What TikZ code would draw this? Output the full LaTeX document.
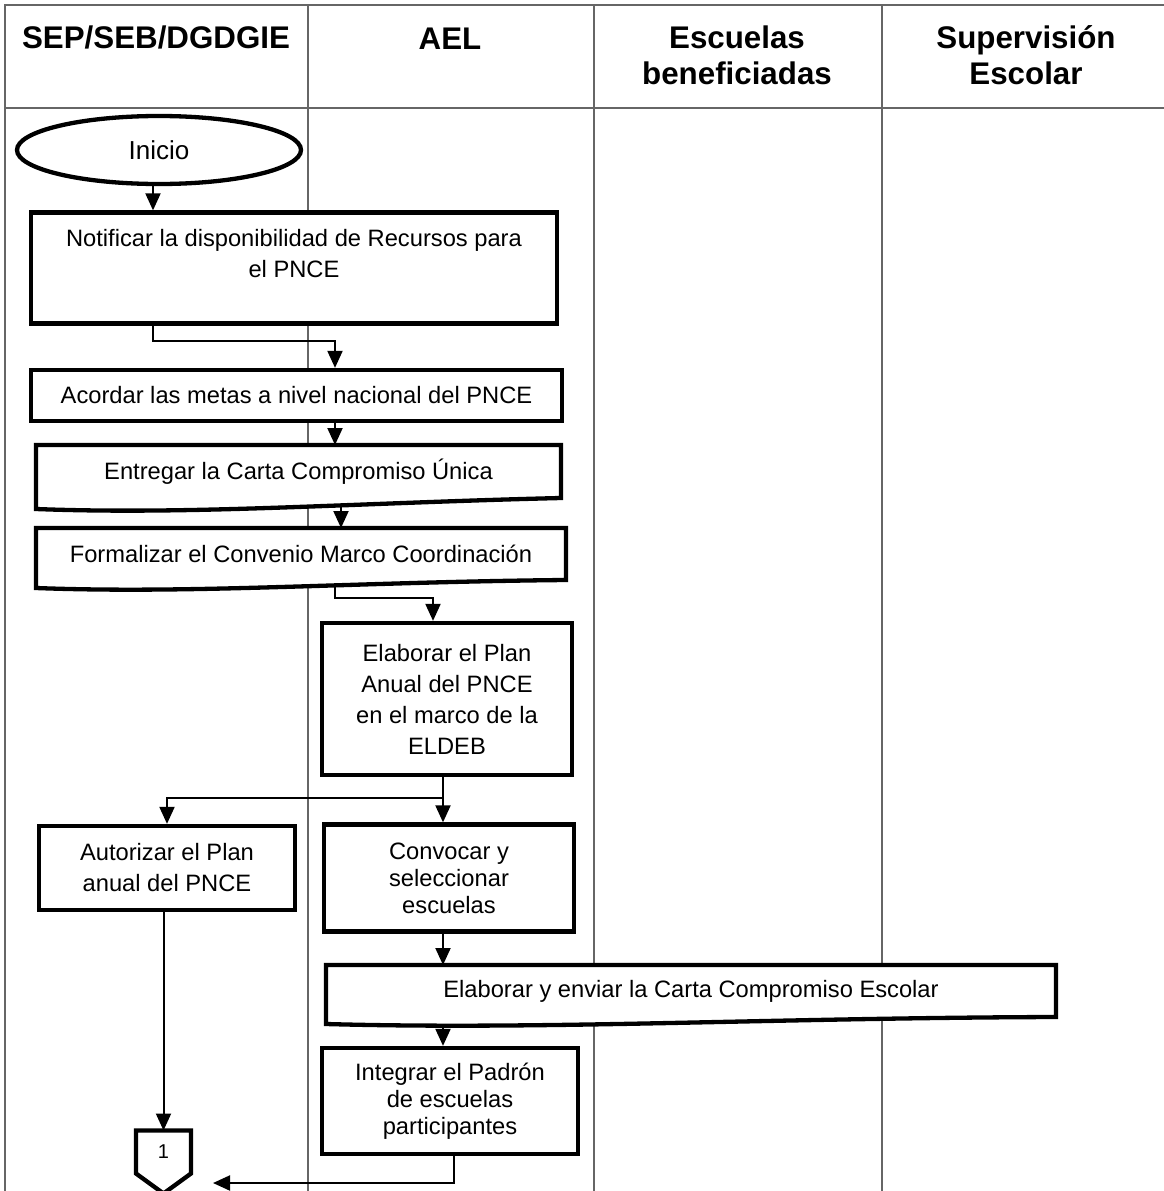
\documentclass[tikz,border=0pt]{standalone}
\usepackage{fontspec}
\setmainfont{Liberation Sans}
\usetikzlibrary{calc,arrows.meta,shapes.geometric}

\pgfdeclarelayer{lanes}
\pgfdeclarelayer{shapes}
\pgfsetlayers{lanes,shapes,main}

% the document symbol: flat top, bottom edge a wave; #2 = how far the left end drops
\newcommand{\docshape}[2]{%
  \begin{pgfonlayer}{shapes}
    \draw[boxline, fill=white] (#1.north west) -- ($(#1.south west)+(0,#2)$)
      .. controls ($(#1.south west)!0.3!(#1.south east)+(0,#2+6)$) and ($(#1.south west)!0.6!(#1.south east)+(0,#2-6)$) .. (#1.south east)
      -- (#1.north east) -- cycle;
  \end{pgfonlayer}}

\begin{document}
\begin{tikzpicture}[x=1pt, y=-1pt, >={Triangle[width=15pt,length=17pt]},
  lane/.style={draw=black!60, line width=1.2pt},
  lanehead/.style={font=\fontsize{31.3}{36}\selectfont\bfseries, align=center, anchor=north, inner sep=0pt},
  boxline/.style={line width=4.3pt},
  stepbox/.style={draw, fill=white, boxline, align=center, inner sep=0pt, font=\fontsize{23.7}{31}\selectfont},
  tightbox/.style={stepbox, font=\fontsize{23.7}{27}\selectfont},
  docbox/.style={stepbox, draw=none, fill=none, outer sep=0pt},
  flow/.style={->, line width=2pt},
]
  \useasboundingbox (0,0) rectangle (1164,1191);
  % ---------------------------------------------------------------- the lanes
  \begin{pgfonlayer}{lanes}
    \draw[lane] (1164,5) -- (5,5) -- (5,1191);
    \draw[lane] (5,108) -- (1164,108);
    \foreach \x in {308,594,882} \draw[lane] (\x,5) -- (\x,1191);
  \end{pgfonlayer}
  \node[lanehead] (hsep) at (156,26) {SEP/SEB/DGDGIE};
  \node[lanehead] (hael) at (450,28) {AEL};
  \node[lanehead] (hesc) at (737,26) {Escuelas\\beneficiadas};
  \node[lanehead] (hsup) at (1026,25) {Supervisión\\Escolar};
  % ---------------------------------------------------------------- the steps
  \node[ellipse, draw, boxline, fill=white, minimum width=284pt, minimum height=68pt, inner sep=0pt,
        font=\fontsize{26}{31}\selectfont] (inicio) at (159,150) {Inicio};
  \node[stepbox, minimum width=526pt, minimum height=111pt, text depth=29pt] (notificar) at (294,268)
    {Notificar la disponibilidad de Recursos para\\el PNCE};
  \node[stepbox, minimum width=531pt, minimum height=51pt] (acordar) at (296.5,395.5)
    {Acordar las metas a nivel nacional del PNCE};
  \node[docbox, minimum width=525pt, minimum height=53pt] (entregar) at (298.5,471.5)
    {Entregar la Carta Compromiso Única};
  \docshape{entregar}{11}
  \node[docbox, minimum width=530pt, minimum height=52pt] (formalizar) at (301,554)
    {Formalizar el Convenio Marco Coordinación};
  \docshape{formalizar}{8}
  \node[stepbox, minimum width=250pt, minimum height=152pt] (plan) at (447,699)
    {Elaborar el Plan\\Anual del PNCE\\en el marco de la\\ELDEB};
  \node[stepbox, minimum width=256pt, minimum height=84pt] (autorizar) at (167,868)
    {Autorizar el Plan\\anual del PNCE};
  \node[tightbox, minimum width=250pt, minimum height=107pt] (convocar) at (449,878)
    {Convocar y\\seleccionar\\escuelas};
  \node[docbox, minimum width=730pt, minimum height=52pt] (carta) at (691,991)
    {Elaborar y enviar la Carta Compromiso Escolar};
  \docshape{carta}{7}
  \node[tightbox, minimum width=256pt, minimum height=106pt] (padron) at (450,1101)
    {Integrar el Padrón\\de escuelas\\participantes};
  % off-page connector
  \node[docbox, minimum width=55pt, minimum height=43pt, font=\fontsize{20}{22}\selectfont] (conn1) at (163.5,1152) {1};
  \begin{pgfonlayer}{shapes}
    \draw[boxline, fill=white] (conn1.north west) -- (conn1.north east) -- (conn1.south east)
      -- ($(conn1.south)+(0,20)$) -- (conn1.south west) -- cycle;
  \end{pgfonlayer}
  % ---------------------------------------------------------------- the connectors
  \coordinate (xa) at (153,0);
  \coordinate (xb) at (335,0);
  \coordinate (xc) at (341,0);
  \coordinate (xd) at (443,0);
  \coordinate (conn1in) at (213,1183);
  \draw[flow] (inicio.south -| xa) -- (notificar.north -| xa);
  \draw[flow] (notificar.south -| xa) -- ++(0,15) -| (acordar.north -| xb);
  \draw[flow] (acordar.south -| xb) -- (entregar.north -| xb);
  \draw[flow] ($(entregar.south -| xc)+(0,8)$) -- (formalizar.north -| xc);
  \draw[flow] ($(formalizar.south -| xb)+(0,5)$) |- ($(plan.north)+(-14,-23)$) -- ($(plan.north)+(-14,0)$);
  \draw[flow] (plan.south -| xd) -- (convocar.north -| xd);
  \draw[flow] ($(plan.south -| xd)+(0,21)$) -| (autorizar.north);
  \draw[flow] (convocar.south -| xd) -- (carta.north -| xd);
  \draw[flow] ($(carta.south -| xd)+(0,10)$) -- (padron.north -| xd);
  \draw[flow] (autorizar.south -| conn1.north) -- (conn1.north);
  \draw[flow] ([xshift=4pt]padron.south) |- (conn1in);
\end{tikzpicture}
\end{document}
